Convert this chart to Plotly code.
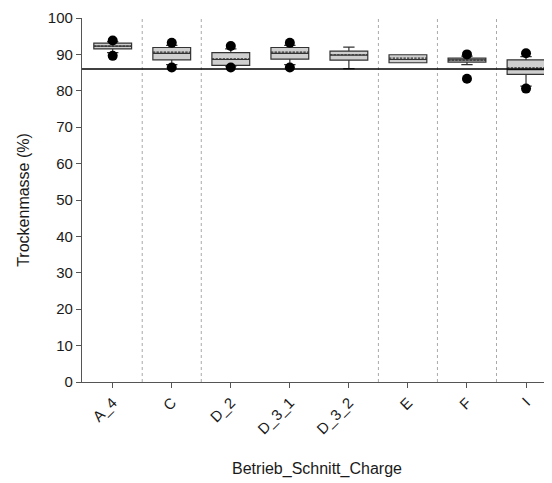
import plotly.graph_objects as go

categories = ["A_4", "C", "D_2", "D_3_1", "D_3_2", "E", "F", "I"]
q1 = [91.5, 88.5, 87.0, 88.7, 88.4, 87.7, 87.9, 84.5]
median = [92.3, 90.3, 88.6, 90.3, 89.8, 88.6, 88.5, 85.8]
q3 = [93.1, 91.9, 90.5, 91.9, 90.9, 89.9, 89.0, 88.5]
mean = [92.3, 90.6, 88.8, 90.6, 89.9, 89.0, 88.4, 86.3]
lowerfence = [90.5, 87.2, 86.8, 87.2, 86.1, 87.7, 87.2, 81.3]
upperfence = [93.5, 92.5, 91.5, 92.5, 92.0, 89.9, 89.5, 89.4]

outlier_x = ["A_4", "A_4", "C", "C", "D_2", "D_2", "D_3_1", "D_3_1", "F", "F", "I", "I"]
outlier_y = [93.8, 89.6, 93.2, 86.4, 92.3, 86.4, 93.2, 86.4, 90.0, 83.3, 90.3, 80.6]

reference_value = 86.0
separators = [0.5, 1.5, 4.5, 5.5, 6.5]
y_ticks = list(range(0, 101, 10))

fig = go.Figure()
fig.add_trace(go.Box(
    x=categories, q1=q1, median=median, q3=q3, mean=mean,
    lowerfence=lowerfence, upperfence=upperfence,
    boxmean=True, width=0.64, whiskerwidth=0.3,
    fillcolor="#cfcfcf", line=dict(color="#333333", width=1.2),
    showlegend=False, hoverinfo="skip",
))
fig.add_trace(go.Scatter(
    x=outlier_x, y=outlier_y, mode="markers",
    marker=dict(color="black", size=10),
    showlegend=False, hoverinfo="skip",
))

for s in separators:
    fig.add_shape(type="line", xref="x", yref="y", x0=s, x1=s, y0=0, y1=100,
                  line=dict(color="#aaaaaa", width=1, dash="dot"), layer="below")
fig.add_shape(type="line", xref="paper", yref="y", x0=0, x1=1,
              y0=reference_value, y1=reference_value,
              line=dict(color="black", width=1.5))

fig.update_layout(
    width=544, height=475,
    margin=dict(l=74, r=0, t=10, b=101),
    plot_bgcolor="white", paper_bgcolor="white",
    font=dict(family="Liberation Sans, Arial, sans-serif", size=15, color="#1a1a1a"),
    xaxis=dict(
        type="category", categoryorder="array", categoryarray=categories,
        range=[-0.52, 7.44], tickangle=-45,
        showline=True, linecolor="#555555", linewidth=1.2,
        ticks="outside", ticklen=5, tickcolor="#555555",
        showgrid=False, zeroline=False,
        title=dict(text="Betrieb_Schnitt_Charge", standoff=26, font=dict(size=16)),
    ),
    yaxis=dict(
        range=[0, 100], tickvals=y_ticks,
        showline=True, linecolor="#555555", linewidth=1.2,
        ticks="outside", ticklen=5, tickcolor="#555555",
        showgrid=False, zeroline=False,
        title=dict(text="Trockenmasse (%)", standoff=14, font=dict(size=16)),
    ),
)

fig.write_html("out.html")
